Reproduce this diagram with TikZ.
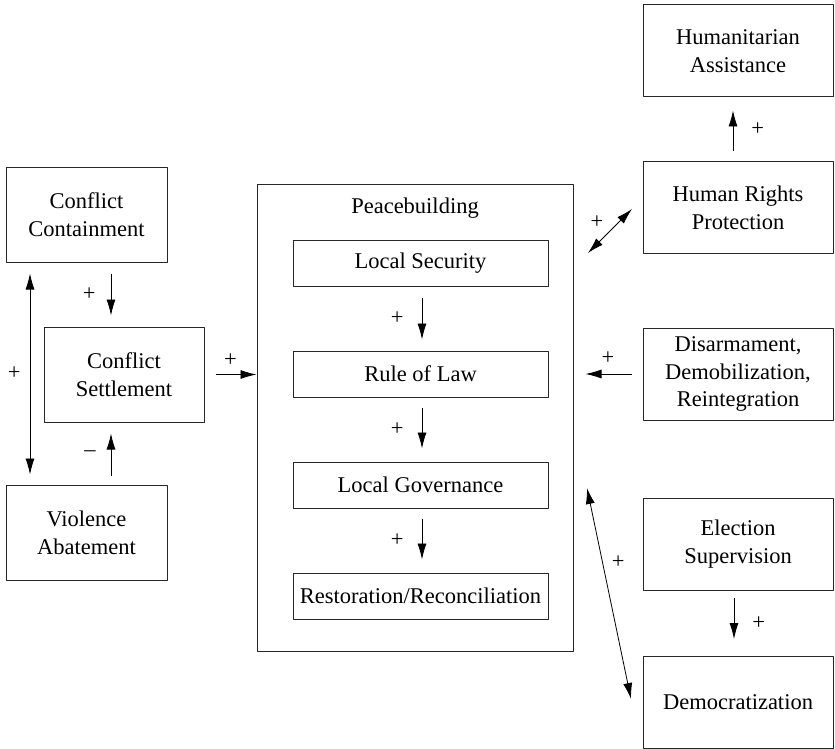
\documentclass[tikz,border=0pt]{standalone}
\usepackage{fontspec}
\setmainfont{Liberation Serif}
\usetikzlibrary{arrows.meta}
\begin{document}
\begin{tikzpicture}[x=1pt, y=-1pt, line join=round,
		font=\fontsize{22.5}{27.7}\selectfont,
		box/.style={draw=black!85, line width=1pt, align=center, inner sep=0pt},
		lbox/.style={box, minimum width=161pt, minimum height=95pt},
		rbox/.style={box, minimum width=190pt, minimum height=92pt},
		ibox/.style={box, minimum width=255pt, minimum height=46pt},
		arr/.style={-{Latex[length=16pt, width=9pt]}, line width=0.8pt},
		dbl/.style={{Latex[length=16pt, width=9pt]}-{Latex[length=16pt, width=9pt]}, line width=0.8pt},
		sign/.style={inner sep=0pt}]
		\useasboundingbox (0,0) rectangle (835,749);
		% left column
		\node[lbox] (cc) at (86.5,214.5) {Conflict\\Containment};
		\node[box, minimum width=160pt, minimum height=95pt] (cs) at (124,374.5) {Conflict\\Settlement};
		\node[lbox] (va) at (86.5,532.5) {Violence\\Abatement};
		% peacebuilding
		\node[box, minimum width=316pt, minimum height=467pt] (pb) at (415,417.5) {};
		\node[sign] (pbl) at (415,208) {Peacebuilding};
		\node[ibox] (ls) at (420.5,263) {Local Security};
		\node[ibox] (rl) at (420.5,374) {Rule of Law};
		\node[ibox] (lg) at (420.5,485) {Local Governance};
		\node[ibox] (rr) at (420.5,596) {Restoration/Reconciliation};
		% right column
		\node[rbox] (ha) at (738,51) {Humanitarian\\Assistance};
		\node[rbox] (hr) at (738,207.5) {Human Rights\\Protection};
		\node[rbox] (dd) at (738,374) {Disarmament,\\Demobilization,\\Reintegration};
		\node[rbox] (es) at (738,544) {Election\\Supervision};
		\node[rbox] (de) at (738,702.5) {Democratization};
		\coordinate (hra) at (588,253);
		\coordinate (hrb) at (632,209);
		\coordinate (dma) at (587,488);
		\coordinate (dmb) at (631,699);
		% connectors
		\draw[dbl, shorten <=11pt, shorten >=10pt] ([xshift=-56.5pt]cc.south) -- ([xshift=-56.5pt]va.north)
		node[sign, midway, left=9pt] {+};
		\draw[arr, shorten <=11pt, shorten >=11pt] ([xshift=24.5pt]cc.south) -- ([xshift=-13pt]cs.north)
		node[sign, midway, left=15pt] {+};
		\draw[arr, shorten <=9pt, shorten >=11pt] ([xshift=24.5pt]va.north) -- ([xshift=-13pt]cs.south)
		node[sign, midway, left=15pt] {–};
		\draw[arr, shorten <=11pt] (cs.east) -- (cs.east -| pb.west)
		node[sign, midway, above=8pt] {+};
		\draw[arr, shorten <=11pt, shorten >=11pt] ([xshift=1.5pt]ls.south) -- ([xshift=1.5pt]rl.north)
		node[sign, midway, left=18pt] {+};
		\draw[arr, shorten <=10pt, shorten >=13pt] ([xshift=1.5pt]rl.south) -- ([xshift=1.5pt]lg.north)
		node[sign, midway, left=18pt] {+};
		\draw[arr, shorten <=10pt, shorten >=13pt] ([xshift=1.5pt]lg.south) -- ([xshift=1.5pt]rr.north)
		node[sign, midway, left=18pt] {+};
		\draw[arr, shorten <=10pt, shorten >=13pt] ([xshift=-5pt]hr.north) -- ([xshift=-5pt]ha.south)
		node[sign, midway, right=18pt] {+};
		\draw[dbl] (hra) -- (hrb) node[sign, pos=0.45, above left=4pt] {+};
		\draw[arr, shorten <=11pt, shorten >=12pt] (dd.west) -- (dd.west -| pb.east)
		node[sign, midway, above=9pt] {+};
		\draw[dbl] (dma) -- (dmb) node[sign, pos=0.35, right=9pt] {+};
		\draw[arr, shorten <=7pt, shorten >=17pt] ([xshift=-4pt]es.south) -- ([xshift=-4pt]de.north)
		node[sign, midway, right=18pt] {+};
	\end{tikzpicture}
\end{document}
